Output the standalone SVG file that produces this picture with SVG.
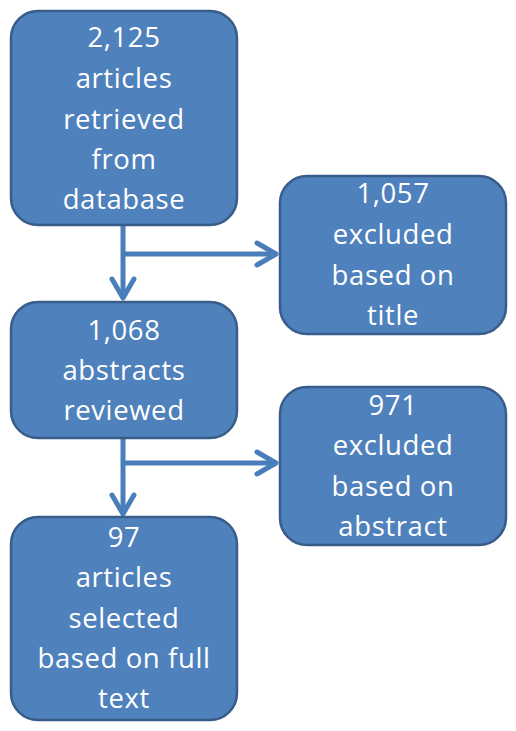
<svg xmlns="http://www.w3.org/2000/svg" width="516" height="731" viewBox="0 0 516 731">
<style>
.box{fill:#4F81BD;stroke:#385D8A;stroke-width:2.5}
.t{font-family:"Open Sans","Liberation Sans",sans-serif;font-size:27.5px;fill:#FFFFFF;text-anchor:middle;letter-spacing:0.6px}
.c{fill:none;stroke:#4A7EBB;stroke-width:5}
.h{fill:none;stroke:#4A7EBB;stroke-width:5;stroke-linecap:round;stroke-linejoin:round}
</style>
<rect width="516" height="731" fill="#FFFFFF"/>
<g id="connectors">
<line class="c" x1="123" y1="225" x2="123" y2="298"/>
<polyline class="h" points="112,279 123,298 134,279"/>
<line class="c" x1="123" y1="254" x2="275" y2="254"/>
<polyline class="h" points="257,243 276,254 257,265"/>
<line class="c" x1="123" y1="437" x2="123" y2="514"/>
<polyline class="h" points="112,495 123,514 134,495"/>
<line class="c" x1="123" y1="463" x2="275" y2="463"/>
<polyline class="h" points="257,452 276,463 257,474"/>
</g>
<g id="node1">
<rect class="box" x="11" y="11" width="226" height="214" rx="27"/>
<text class="t" x="124" y="47">2,125</text>
<text class="t" x="124" y="88">articles</text>
<text class="t" x="124" y="128.5">retrieved</text>
<text class="t" x="124" y="169">from</text>
<text class="t" x="124" y="209">database</text>
</g>
<g id="node2">
<rect class="box" x="280" y="176" width="226" height="158" rx="27"/>
<text class="t" x="393" y="203">1,057</text>
<text class="t" x="393" y="244">excluded</text>
<text class="t" x="393" y="285">based on</text>
<text class="t" x="393" y="325">title</text>
</g>
<g id="node3">
<rect class="box" x="11" y="302" width="226" height="136" rx="27"/>
<text class="t" x="124" y="340">1,068</text>
<text class="t" x="124" y="380">abstracts</text>
<text class="t" x="124" y="420">reviewed</text>
</g>
<g id="node4">
<rect class="box" x="280" y="387" width="226" height="158" rx="27"/>
<text class="t" x="393" y="415">971</text>
<text class="t" x="393" y="455">excluded</text>
<text class="t" x="393" y="496">based on</text>
<text class="t" x="393" y="536">abstract</text>
</g>
<g id="node5">
<rect class="box" x="11" y="517" width="226" height="203" rx="27"/>
<text class="t" x="124" y="547">97</text>
<text class="t" x="124" y="587">articles</text>
<text class="t" x="124" y="628">selected</text>
<text class="t" x="124" y="668">based on full</text>
<text class="t" x="124" y="708">text</text>
</g>
</svg>
